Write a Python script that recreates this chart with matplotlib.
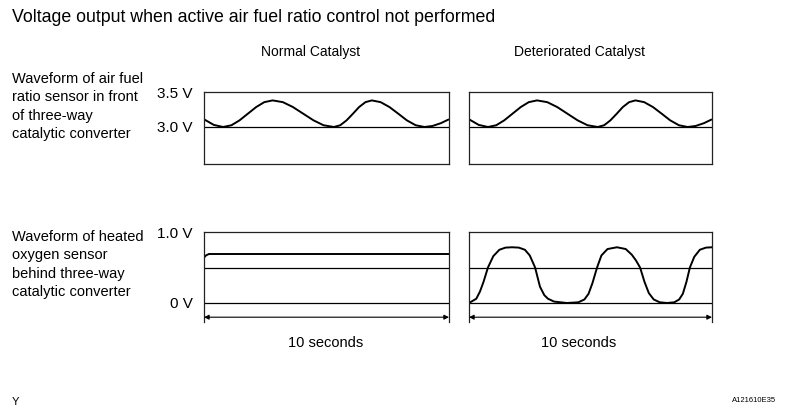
import matplotlib
matplotlib.use("Agg")
import matplotlib.pyplot as plt

plt.rcParams["font.family"] = ["Liberation Sans", "DejaVu Sans"]

W, H = 786, 417

# ---- data ----
title = "Voltage output when active air fuel ratio control not performed"
columns = ["Normal Catalyst", "Deteriorated Catalyst"]
row_labels = [
    "Waveform of air fuel\nratio sensor in front\nof three-way\ncatalytic converter",
    "Waveform of heated\noxygen sensor\nbehind three-way\ncatalytic converter",
]
span_label = "10 seconds"

# air fuel ratio sensor (same for both catalysts), time in s, volts
afr_t = [0.0, 0.4, 0.78, 1.12, 1.45, 1.79, 2.13, 2.46, 2.8,
         3.22, 3.63, 4.05, 4.47, 4.88, 5.3,
         5.56, 5.82, 6.08, 6.33, 6.59, 6.85,
         7.21, 7.57, 7.93, 8.28, 8.64, 9.0,
         9.33, 9.67, 10.0]
afr_v = [3.11, 3.03, 3.0, 3.025, 3.095, 3.19, 3.285, 3.355, 3.38,
         3.355, 3.285, 3.19, 3.095, 3.025, 3.0,
         3.025, 3.095, 3.19, 3.285, 3.355, 3.38,
         3.355, 3.285, 3.19, 3.095, 3.025, 3.0,
         3.015, 3.055, 3.11]
afr_ticks = [3.0, 3.5]
afr_ticklabels = ["3.0 V", "3.5 V"]

# heated oxygen sensor, normal catalyst
ho2_norm_t = [0.0, 0.08, 0.2, 10.0]
ho2_norm_v = [0.64, 0.67, 0.69, 0.69]

# heated oxygen sensor, deteriorated catalyst
ho2_det_t = [0.0, 0.3, 0.45, 0.6, 0.78, 1.0, 1.25, 1.5, 1.77, 2.05, 2.3, 2.5,
             2.72, 2.92, 3.1, 3.25, 3.5, 4.03, 4.5, 4.75, 4.92, 5.08, 5.27,
             5.45, 5.7, 6.09, 6.45, 6.7, 6.87, 7.04, 7.22, 7.4, 7.6, 7.85,
             8.15, 8.45, 8.65, 8.8, 8.95, 9.09, 9.27, 9.5, 9.75, 10.0]
ho2_det_v = [0.0, 0.06, 0.16, 0.3, 0.5, 0.66, 0.75, 0.78, 0.785, 0.78, 0.75,
             0.67, 0.5, 0.23, 0.11, 0.06, 0.02, 0.0, 0.01, 0.05, 0.13, 0.28,
             0.5, 0.67, 0.76, 0.785, 0.76, 0.68, 0.6, 0.5, 0.3, 0.14, 0.05,
             0.01, 0.0, 0.01, 0.05, 0.13, 0.3, 0.5, 0.65, 0.75, 0.78, 0.785]
ho2_ticks = [0.0, 1.0]
ho2_ticklabels = ["0 V", "1.0 V"]
ho2_ref = 0.5


def px_rect(x0, y0, x1, y1):
    return [x0 / W, 1 - y1 / H, (x1 - x0) / W, (y1 - y0) / H]


def fx(x, y):
    return x / W, 1 - y / H


edge = "#222222"
fs = 10.5
fig = plt.figure(figsize=(W / 100, H / 100), dpi=100)

fig.text(*fx(12, 17), title, fontsize=12.8, va="center", ha="left")
fig.text(*fx(12, 402), "Y", fontsize=8, va="center", ha="left")
fig.text(*fx(776, 401), "A121610E35", fontsize=5.5, va="center", ha="right")

for i, name in enumerate(columns):
    cx = [311, 580][i]
    fig.text(*fx(cx, 52), name, fontsize=10, va="center", ha="center")

fig.text(*fx(12, 106.5), row_labels[0], fontsize=fs, va="center", ha="left",
         linespacing=1.42)
fig.text(*fx(12, 264.5), row_labels[1], fontsize=fs, va="center", ha="left",
         linespacing=1.42)

xs = [(204, 449), (469, 712)]

# top row
for i, (x0, x1) in enumerate(xs):
    ax = fig.add_axes(px_rect(x0, 92, x1, 164))
    ax.plot(afr_t, afr_v, color="black", lw=1.4, solid_capstyle="butt")
    ax.axhline(3.0, color="black", lw=0.9)
    ax.set_xlim(0, 10)
    ax.set_ylim(3.5 - 72 / 70, 3.5)
    ax.set_xticks([])
    for s in ax.spines.values():
        s.set_color(edge)
        s.set_linewidth(0.9)
    if i == 0:
        ax.set_yticks(afr_ticks, afr_ticklabels, fontsize=11)
        ax.tick_params(axis="y", length=0, pad=8)
    else:
        ax.set_yticks([])

# bottom row
for i, (x0, x1) in enumerate(xs):
    ax = fig.add_axes(px_rect(x0, 232, x1, 322))
    if i == 0:
        ax.plot(ho2_norm_t, ho2_norm_v, color="black", lw=1.4)
    else:
        ax.plot(ho2_det_t, ho2_det_v, color="black", lw=1.4)
    ax.axhline(ho2_ref, color="black", lw=0.9)
    ax.axhline(0.0, color="black", lw=0.9)
    ax.set_xlim(0, 10)
    ax.set_ylim(1.0 - 90 / 71, 1.0)
    ax.set_xticks([])
    ax.spines["bottom"].set_visible(False)
    for s in ["top", "left", "right"]:
        ax.spines[s].set_color(edge)
        ax.spines[s].set_linewidth(0.9)
    ax.annotate("", xy=(10, -0.2), xytext=(0, -0.2),
                arrowprops=dict(arrowstyle="<|-|>", color="black", lw=0.8,
                                mutation_scale=7, shrinkA=0, shrinkB=0))
    ax.text([4.95, 4.5][i], -0.56, span_label, fontsize=fs, ha="center",
            va="center", clip_on=False)
    if i == 0:
        ax.set_yticks(ho2_ticks, ho2_ticklabels, fontsize=11)
        ax.tick_params(axis="y", length=0, pad=8)
    else:
        ax.set_yticks([])

fig.savefig("out.png", dpi=100)
